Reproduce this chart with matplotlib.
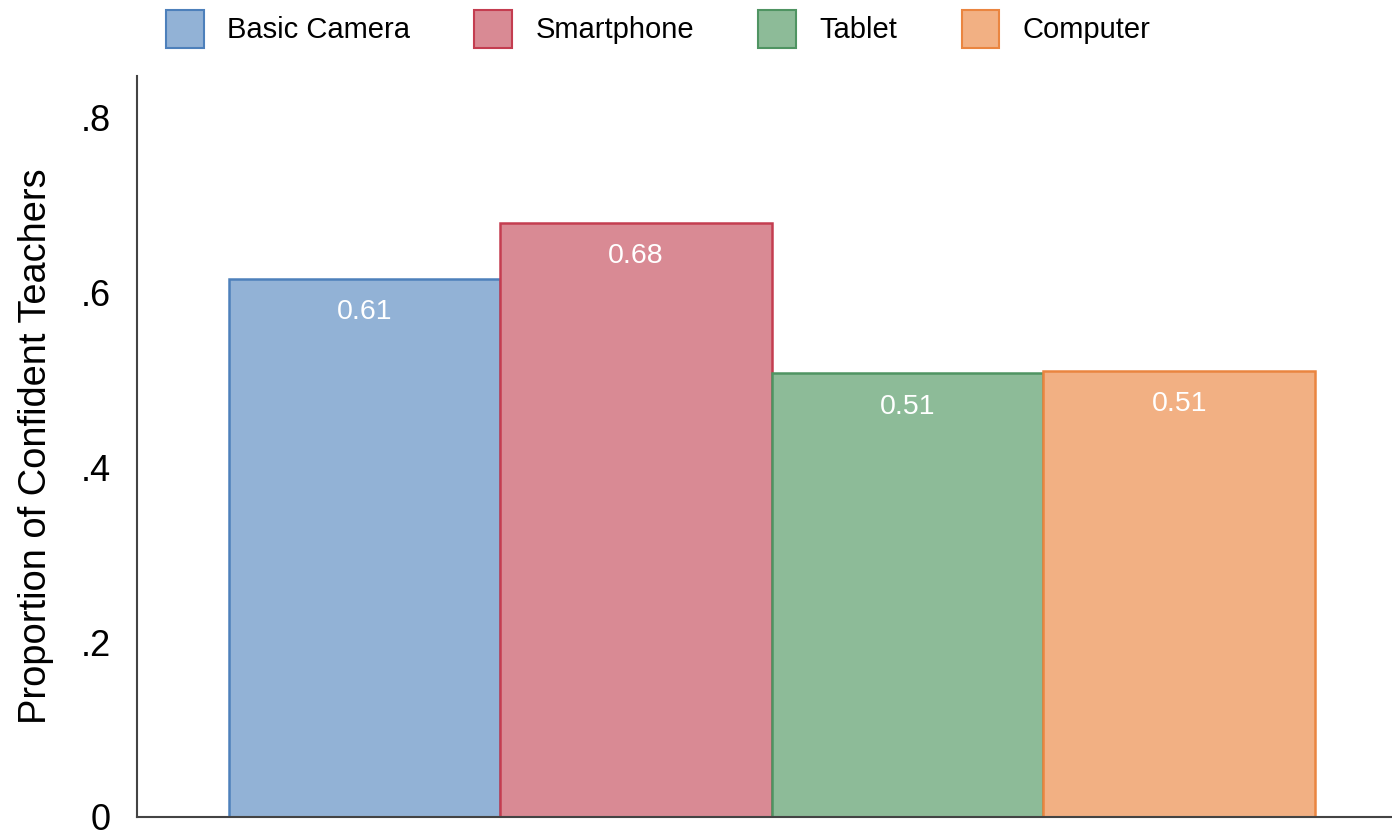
import matplotlib
matplotlib.use("Agg")
import matplotlib.pyplot as plt
from matplotlib.patches import Patch

plt.rcParams['font.family'] = ['Liberation Sans', 'DejaVu Sans']

categories = ["Basic Camera", "Smartphone", "Tablet", "Computer"]
values = [0.615, 0.679, 0.507, 0.510]
value_labels = ["0.61", "0.68", "0.51", "0.51"]
ytick_vals = [0, 0.2, 0.4, 0.6, 0.8]
ytick_labels = ["0", ".2", ".4", ".6", ".8"]
fill_colors = ["#92b2d6", "#d98a94", "#8dbb98", "#f2b083"]
edge_colors = ["#4d80bb", "#c43d50", "#4f9462", "#ea8540"]

fig = plt.figure(figsize=(13.92, 8.39), dpi=100)
ax = fig.add_axes([137/1392, 22/839, 1 - 137/1392, (817-76)/839])

x = list(range(len(categories)))
bars = ax.bar(x, values, width=1.0, color=fill_colors, edgecolor=edge_colors, linewidth=1.8)

for xi, v, lab in zip(x, values, value_labels):
    ax.annotate(lab, (xi, v), xytext=(0, -24), textcoords='offset points',
                ha='center', va='center', color='white', fontsize=20.5)

ax.set_xlim(-0.837, 3.783)
ax.set_ylim(0, 0.847)
ax.set_xticks([])
ax.set_yticks(ytick_vals)
ax.set_yticklabels(ytick_labels)
ax.tick_params(axis='y', length=0, pad=19, labelsize=26)
ax.set_ylabel("Proportion of Confident Teachers", fontsize=27.4, labelpad=19)

for s in ['top', 'right']:
    ax.spines[s].set_visible(False)
for s in ['left', 'bottom']:
    ax.spines[s].set_color('#444444')
    ax.spines[s].set_linewidth(1.5)

handles = [Patch(facecolor=fc, edgecolor=ec, linewidth=1.5, label=c)
           for c, fc, ec in zip(categories, fill_colors, edge_colors)]
fig.legend(handles=handles, loc='upper left', bbox_to_anchor=(157/1392, 1 - 1/839),
           ncol=4, frameon=False, fontsize=21, handlelength=1.3, handleheight=1.625,
           handletextpad=0.8, columnspacing=2.2, borderaxespad=0, borderpad=0.3)

fig.savefig("out.png", dpi=100)
